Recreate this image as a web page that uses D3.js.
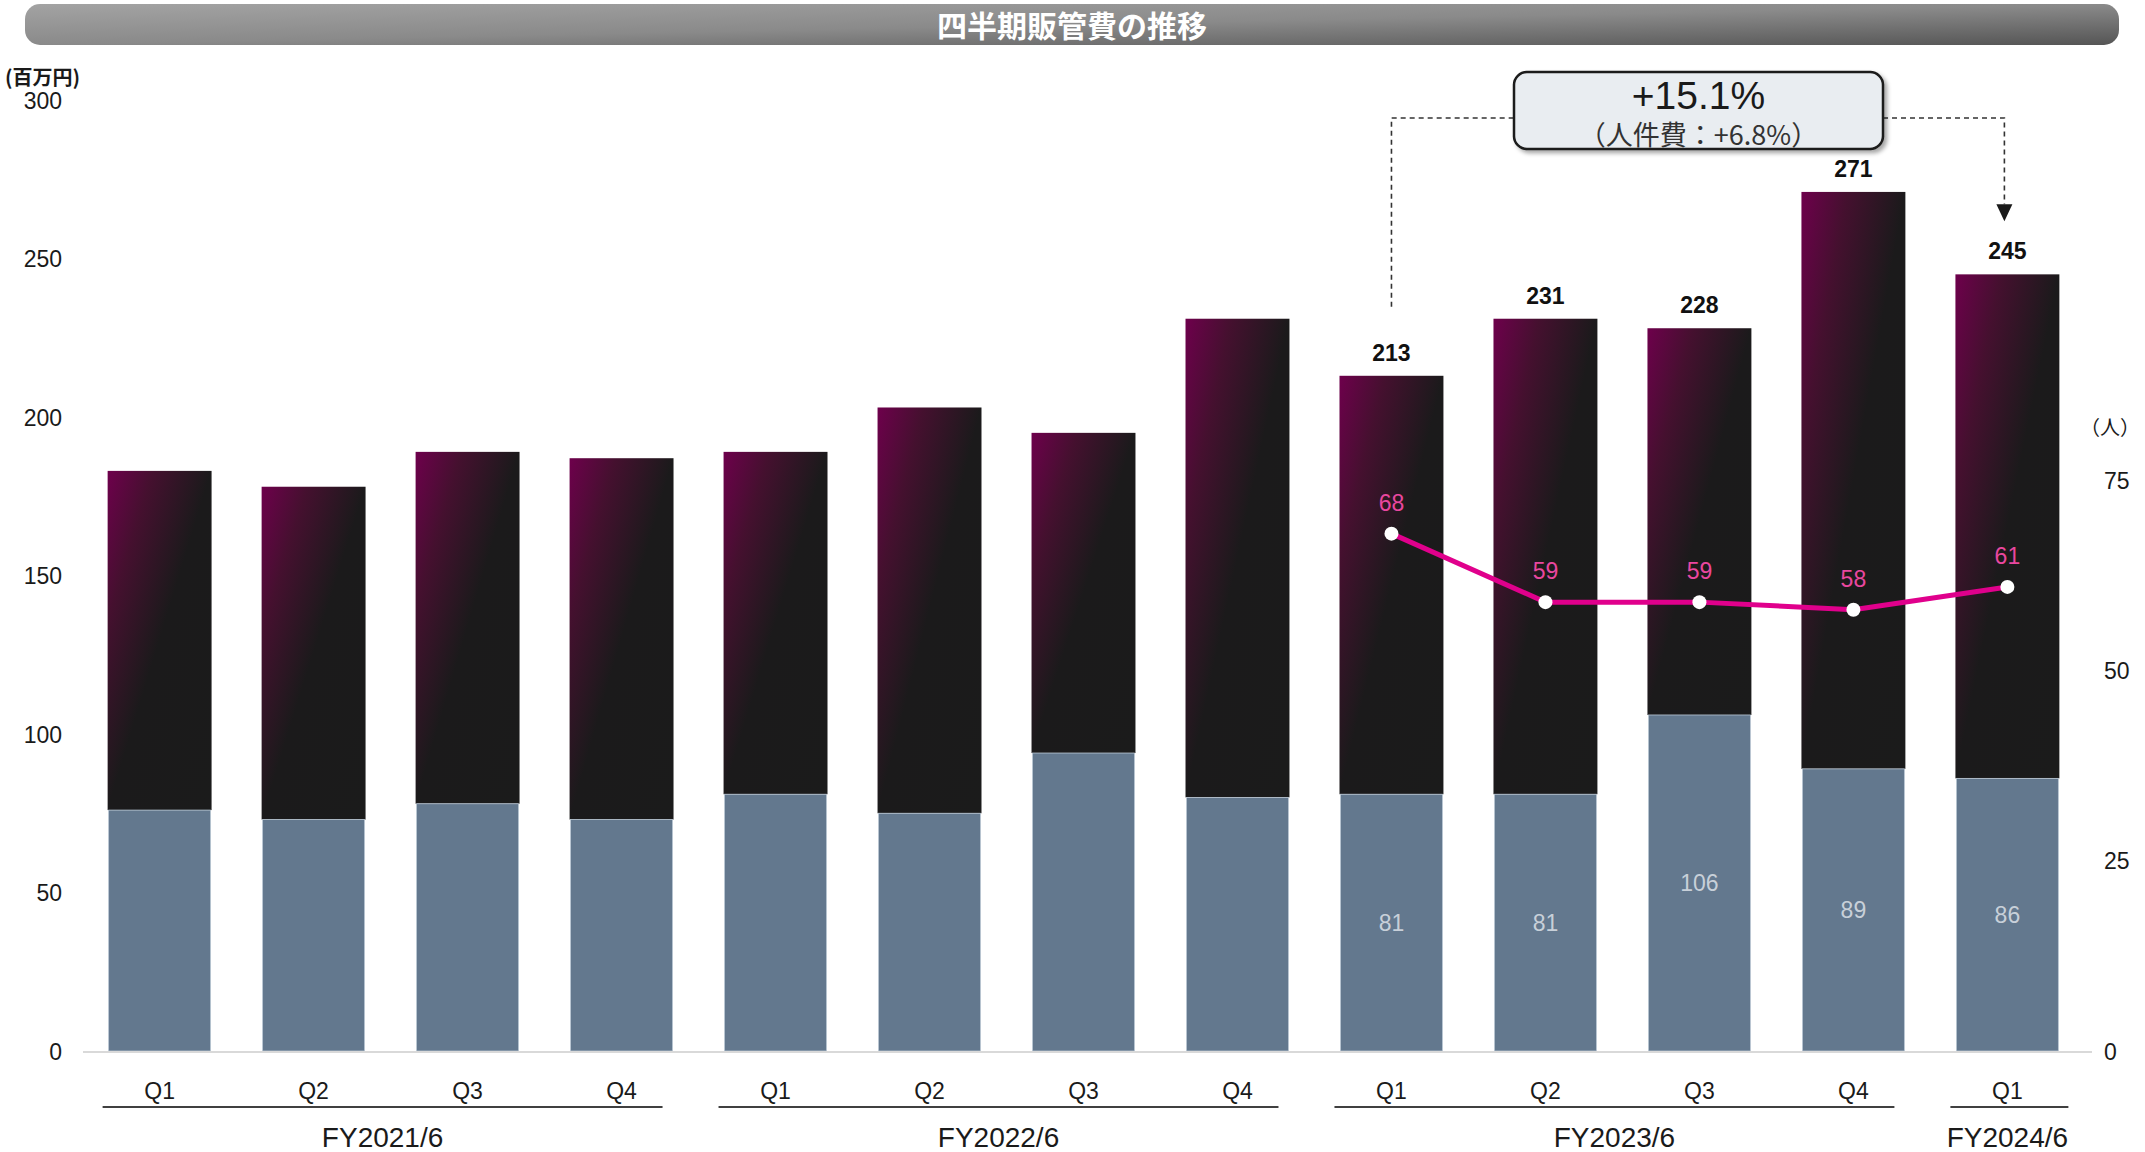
<!DOCTYPE html>
<html>
<head>
<meta charset="utf-8">
<script src="https://cdn.jsdelivr.net/npm/d3@7"></script>
<style>
  html, body { margin: 0; padding: 0; background: #ffffff; }
  svg { display: block; }
</style>
</head>
<body>
<svg id="chart" width="2145" height="1152"></svg>
<script>
// ---------- data ----------
const chartTitle = "四半期販管費の推移";
const quarters = ["Q1", "Q2", "Q3", "Q4", "Q1", "Q2", "Q3", "Q4", "Q1", "Q2", "Q3", "Q4", "Q1"];
const totalCost = [183, 178, 189, 187, 189, 203, 195, 231, 213, 231, 228, 271, 245];      // 百万円
const personnelCost = [76, 73, 78, 73, 81, 75, 94, 80, 81, 81, 106, 89, 86];              // 百万円
const headcount = [null, null, null, null, null, null, null, null, 68, 59, 59, 58, 61];   // 人
const labeledFrom = 8;   // value labels shown from FY2023/6 Q1
const fyLabels = ["FY2021/6", "FY2022/6", "FY2023/6", "FY2024/6"];
const fyFirst = [0, 4, 8, 12];
const fyLast = [3, 7, 11, 12];
const leftTicks = [0, 50, 100, 150, 200, 250, 300];
const rightTicks = [0, 25, 50, 75];
const leftUnit = "(百万円)";
const rightUnit = "（人）";
const growthMain = "+15.1%";
const growthSub = "（人件費：+6.8%）";

// ---------- setup ----------
const svg = d3.select("#chart");
const latin = "'Liberation Sans', Arial, sans-serif";
const cjk = "'Noto Sans CJK JP', 'Liberation Sans', sans-serif";

const x = d3.scaleBand().domain(d3.range(quarters.length)).range([83, 2084])
  .paddingInner(0.325).paddingOuter(0.16);
const yL = d3.scaleLinear().domain([0, 300]).range([1051, 100]);
const yR = d3.scaleLinear().domain([0, 125]).range([1051, 100]);
const cx = i => x(i) + x.bandwidth() / 2;

const defs = svg.append("defs");
const tg = defs.append("linearGradient").attr("id", "titleGrad")
  .attr("x1", 0).attr("y1", 0).attr("x2", 1).attr("y2", 1);
tg.append("stop").attr("offset", 0).attr("stop-color", "#a3a3a3");
tg.append("stop").attr("offset", 0.5).attr("stop-color", "#8a8a8a");
tg.append("stop").attr("offset", 1).attr("stop-color", "#555555");

const bg = defs.append("linearGradient").attr("id", "barGrad")
  .attr("x1", 0).attr("y1", 0).attr("x2", 1).attr("y2", 1);
bg.append("stop").attr("offset", 0).attr("stop-color", "#6e004c");
bg.append("stop").attr("offset", 0.22).attr("stop-color", "#45102f");
bg.append("stop").attr("offset", 0.5).attr("stop-color", "#1b1a1b");
bg.append("stop").attr("offset", 1).attr("stop-color", "#1b1b1b");

const sh = defs.append("filter").attr("id", "shadow").attr("x", "-10%").attr("y", "-20%")
  .attr("width", "130%").attr("height", "150%");
sh.append("feDropShadow").attr("dx", 3).attr("dy", 3).attr("stdDeviation", 2)
  .attr("flood-color", "#000").attr("flood-opacity", 0.35);

// ---------- title bar ----------
svg.append("rect").attr("x", 25).attr("y", 4).attr("width", 2094).attr("height", 41)
  .attr("rx", 15).attr("fill", "url(#titleGrad)");
svg.append("text").attr("x", 1072).attr("y", 24).attr("text-anchor", "middle")
  .attr("dominant-baseline", "central").attr("font-family", cjk).attr("font-weight", 700)
  .attr("font-size", 30).attr("fill", "#ffffff").text(chartTitle);

// ---------- axes ----------
const leftAxis = d3.axisLeft(yL).tickValues(leftTicks).tickSize(0).tickPadding(0);
const gL = svg.append("g").attr("transform", "translate(62,0)").call(leftAxis);
gL.select(".domain").remove();
gL.selectAll("text").attr("font-family", latin).attr("font-size", 23).attr("fill", "#1a1a1a")
  .attr("dy", "0.35em").attr("x", 0);

const rightAxis = d3.axisRight(yR).tickValues(rightTicks).tickSize(0).tickPadding(0);
const gR = svg.append("g").attr("transform", "translate(2104,0)").call(rightAxis);
gR.select(".domain").remove();
gR.selectAll("text").attr("font-family", latin).attr("font-size", 23).attr("fill", "#1a1a1a")
  .attr("dy", "0.35em").attr("x", 0);

svg.append("text").attr("x", 5).attr("y", 76).attr("font-family", cjk).attr("font-size", 20)
  .attr("font-weight", 700).attr("fill", "#1a1a1a").attr("dominant-baseline", "central").text(leftUnit);
svg.append("text").attr("x", 2080).attr("y", 426).attr("font-family", cjk).attr("font-size", 20)
  .attr("fill", "#1a1a1a").attr("dominant-baseline", "central").text(rightUnit);

// ---------- bars ----------
const idx = d3.range(quarters.length);
svg.append("g").selectAll("rect").data(idx).join("rect")
  .attr("x", i => x(i)).attr("width", x.bandwidth())
  .attr("y", i => yL(totalCost[i])).attr("height", i => yL(personnelCost[i]) - yL(totalCost[i]))
  .attr("fill", "url(#barGrad)");
svg.append("g").selectAll("rect").data(idx).join("rect")
  .attr("x", i => x(i) + 1).attr("width", x.bandwidth() - 2)
  .attr("y", i => yL(personnelCost[i])).attr("height", i => yL(0) - yL(personnelCost[i]))
  .attr("fill", "#63788e").attr("stroke", "#b9c6d3").attr("stroke-width", 0.8);

// baseline
svg.append("line").attr("x1", 83).attr("x2", 2092).attr("y1", yL(0) + 1).attr("y2", yL(0) + 1)
  .attr("stroke", "#d9d9d9").attr("stroke-width", 2);

// ---------- value labels ----------
const lab = idx.filter(i => i >= labeledFrom);
svg.append("g").selectAll("text").data(lab).join("text")
  .attr("x", cx).attr("y", i => yL(totalCost[i]) - 15).attr("text-anchor", "middle")
  .attr("font-family", latin).attr("font-weight", 700).attr("font-size", 23).attr("fill", "#111")
  .text(i => totalCost[i]);
svg.append("g").selectAll("text").data(lab).join("text")
  .attr("x", cx).attr("y", i => (yL(personnelCost[i]) + yL(0)) / 2).attr("text-anchor", "middle")
  .attr("dominant-baseline", "central")
  .attr("font-family", latin).attr("font-size", 23).attr("fill", "#c8d0d9")
  .text(i => personnelCost[i]);

// ---------- headcount line ----------
const line = d3.line().defined(i => headcount[i] != null).x(cx).y(i => yR(headcount[i]));
svg.append("path").datum(idx).attr("d", line).attr("fill", "none")
  .attr("stroke", "#e0008c").attr("stroke-width", 5).attr("stroke-linejoin", "round");
svg.append("g").selectAll("circle").data(lab).join("circle")
  .attr("cx", cx).attr("cy", i => yR(headcount[i])).attr("r", 7).attr("fill", "#ffffff");
svg.append("g").selectAll("text").data(lab).join("text")
  .attr("x", cx).attr("y", i => yR(headcount[i]) - 23).attr("text-anchor", "middle")
  .attr("font-family", latin).attr("font-size", 23).attr("fill", "#e9479f")
  .text(i => headcount[i]);

// ---------- category axis ----------
svg.append("g").selectAll("text").data(idx).join("text")
  .attr("x", cx).attr("y", 1091).attr("text-anchor", "middle").attr("dominant-baseline", "central")
  .attr("font-family", latin).attr("font-size", 23).attr("fill", "#1a1a1a")
  .text(i => quarters[i]);
const fyIdx = d3.range(fyLabels.length);
svg.append("g").selectAll("line").data(fyIdx).join("line")
  .attr("x1", k => cx(fyFirst[k]) - 57)
  .attr("x2", k => fyFirst[k] === fyLast[k] ? cx(fyLast[k]) + 61 : cx(fyLast[k]) + 41)
  .attr("y1", 1107).attr("y2", 1107).attr("stroke", "#404040").attr("stroke-width", 2);
svg.append("g").selectAll("text").data(fyIdx).join("text")
  .attr("x", k => fyFirst[k] === fyLast[k] ? cx(fyFirst[k]) : (cx(fyFirst[k]) + cx(fyLast[k])) / 2 - 8)
  .attr("y", 1137).attr("text-anchor", "middle").attr("dominant-baseline", "central")
  .attr("font-family", latin).attr("font-size", 28).attr("fill", "#1a1a1a")
  .text(k => fyLabels[k]);

// ---------- growth annotation ----------
const fromI = 8, toI = 12;
const boxL = 1514, boxR = 1883, boxT = 72, boxB = 149, dashY = 118;
const dashG = svg.append("g").attr("fill", "none").attr("stroke", "#333")
  .attr("stroke-width", 1.6).attr("stroke-dasharray", "5,4");
dashG.append("path").attr("d", `M${cx(fromI)},${yL(totalCost[fromI]) - 69} V${dashY} H${boxL}`);
dashG.append("path").attr("d", `M${boxR},${dashY} H${cx(toI) - 3} V${yL(totalCost[toI]) - 70}`);
const ax = cx(toI) - 3, ay = yL(totalCost[toI]) - 70;
svg.append("path").attr("d", `M${ax - 8},${ay} L${ax + 8},${ay} L${ax},${ay + 17} Z`).attr("fill", "#1a1a1a");

svg.append("rect").attr("x", boxL).attr("y", boxT).attr("width", boxR - boxL).attr("height", boxB - boxT)
  .attr("rx", 13).attr("fill", "#e9edf1").attr("stroke", "#1a1a1a").attr("stroke-width", 2.5)
  .attr("filter", "url(#shadow)");
svg.append("text").attr("x", (boxL + boxR) / 2).attr("y", 95).attr("text-anchor", "middle")
  .attr("dominant-baseline", "central").attr("font-family", latin).attr("font-size", 39)
  .attr("fill", "#1a1a1a").text(growthMain);
svg.append("text").attr("x", (boxL + boxR) / 2).attr("y", 133).attr("text-anchor", "middle")
  .attr("dominant-baseline", "central").attr("font-family", cjk).attr("font-size", 27)
  .attr("fill", "#333").text(growthSub);
</script>
</body>
</html>
